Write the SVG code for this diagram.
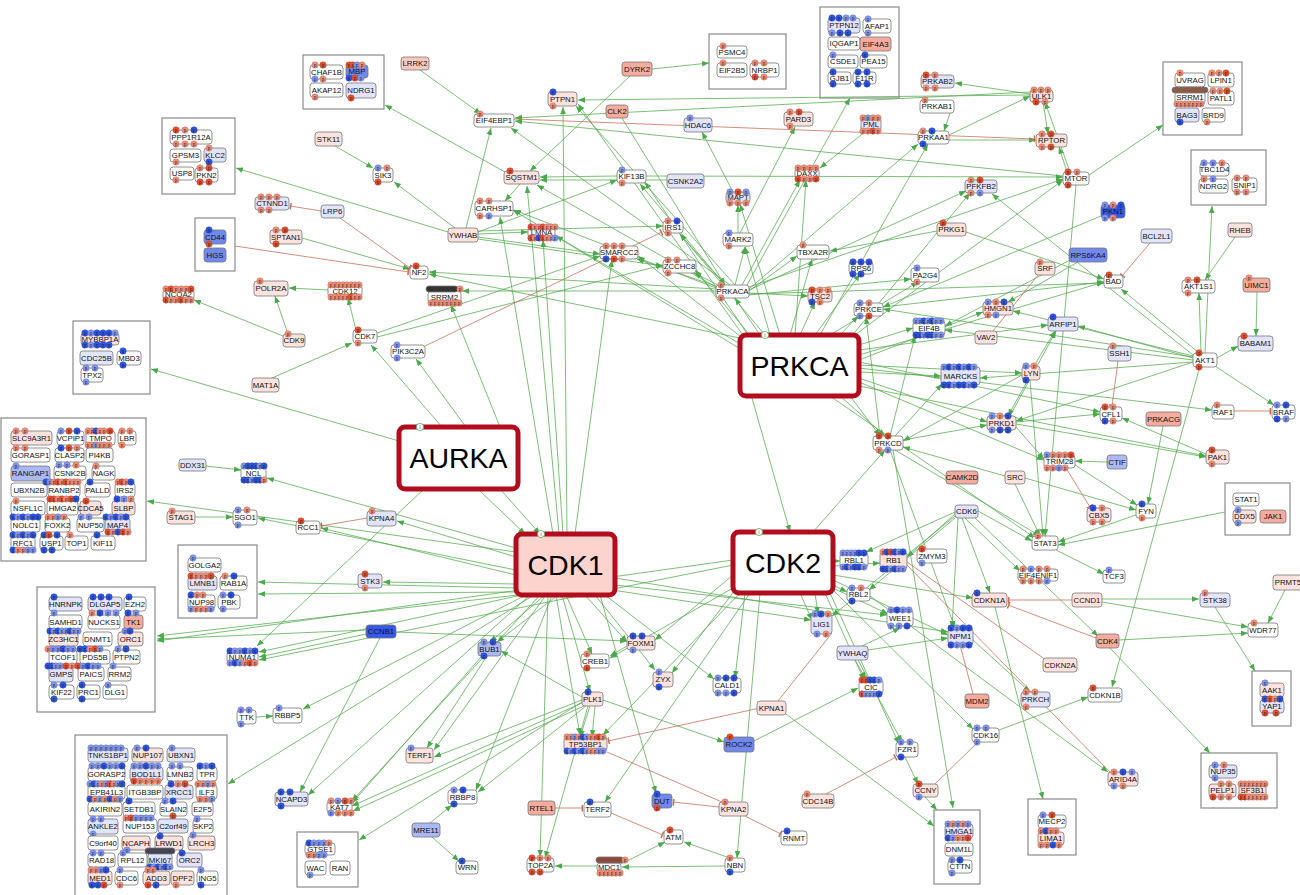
<svg xmlns="http://www.w3.org/2000/svg" width="1300" height="895" viewBox="0 0 1300 895">
<defs>
<style>
text{font-family:"Liberation Sans",Arial,sans-serif}
.n text{font-size:7.8px;text-anchor:middle;fill:#111}
.n rect{stroke:#777;stroke-width:.8;rx:3px}
.w{fill:#fff}.lp{fill:#fde2dd}.mp{fill:#f9c9be}.pk{fill:#f5ab9d}.lb{fill:#e1e4fb}.mb{fill:#abb8f3}.bl{fill:#7189ed}.db{fill:#3759e8}
.grp rect{fill:#fff;stroke:#8a8a8a;stroke-width:1.2}
.big rect{stroke:#b10d1f;stroke-width:5;rx:6px}
.big text{font-size:28.5px;text-anchor:middle;fill:#000}
#edges path{fill:none;stroke:#55aa4f;stroke-width:.9;stroke-opacity:.85;marker-end:url(#a)}
#edges path.r{stroke:#c46a55;marker-end:url(#t)}
#edges path.rn{stroke:#c46a55;marker-end:none}
.p{font-size:4.6px;text-anchor:middle;fill:#222}
.bar{rx:3px}
</style>
<marker id="a" viewBox="0 0 10 10" refX="10" refY="5" markerWidth="7" markerHeight="7" orient="auto" markerUnits="userSpaceOnUse"><path d="M0,1 L10,5 L0,9z" fill="#4aa94a"/></marker>
<marker id="t" viewBox="0 0 4 10" refX="3" refY="5" markerWidth="3" markerHeight="7" orient="auto" markerUnits="userSpaceOnUse"><path d="M2,0 V10" stroke="#c46a55" stroke-width="2"/></marker>
<g id="R"><circle r="3.2" fill="#e5502f" stroke="#b8402a" stroke-width=".5"/><text class="p" y="1.7">p</text></g>
<g id="S"><circle r="3.2" fill="#ef907a" stroke="#c07060" stroke-width=".5"/><text class="p" y="1.7">p</text></g>
<g id="B"><circle r="3.2" fill="#2f57e5" stroke="#1f3fb0" stroke-width=".5"/><text class="p" y="1.7">p</text></g>
<g id="L"><circle r="3.2" fill="#8399ef" stroke="#6070c0" stroke-width=".5"/><text class="p" y="1.7">p</text></g>
<g id="I"><circle r="3.6" fill="#fff" stroke="#5aaa55" stroke-width=".8"/><text class="p" y="1.7">i</text></g>
</defs>
<rect width="1300" height="895" fill="#fff"/>

<!-- group boxes -->
<g class="grp">
<g id="grp-CHAF1B"><rect x="303" y="55" width="81" height="54"/></g>
<g id="grp-PPP1R12A"><rect x="162" y="118" width="73" height="76"/></g>
<g id="grp-CD44"><rect x="195" y="218" width="40" height="53"/></g>
<g id="grp-PSMC4"><rect x="709" y="34" width="77" height="55"/></g>
<g id="grp-PTPN12"><rect x="820" y="7" width="79" height="91"/></g>
<g id="grp-UVRAG"><rect x="1163" y="62" width="79" height="73"/></g>
<g id="grp-TBC1D4"><rect x="1191" y="150" width="75" height="55"/></g>
<g id="grp-MYBBP1A"><rect x="73" y="321" width="77" height="73"/></g>
<g id="grp-SLC9A3R1"><rect x="1" y="418" width="145" height="143"/></g>
<g id="grp-GOLGA2"><rect x="178" y="545" width="79" height="73"/></g>
<g id="grp-HNRNPK"><rect x="37" y="587" width="118" height="125"/></g>
<g id="grp-TNKS1BP1"><rect x="75" y="735" width="152" height="170"/></g>
<g id="grp-GTSE1"><rect x="297" y="832" width="61" height="55"/></g>
<g id="grp-STAT1"><rect x="1225" y="483" width="65" height="52"/></g>
<g id="grp-AAK1"><rect x="1252" y="671" width="39" height="55"/></g>
<g id="grp-NUP35"><rect x="1201" y="753" width="76" height="55"/></g>
<g id="grp-MECP2"><rect x="1028" y="799" width="48" height="56"/></g>
<g id="grp-HMGA1"><rect x="934" y="810" width="46" height="74"/></g>
</g>

<g id="edges">
<!-- AURKA -->
<path d="M399 441 L151 369"/><path d="M442 427 L371 345"/><path d="M466 427 L416 359"/><path d="M500 427 L451 305"/><path d="M424 489 L257 646"/><path d="M478 489 L525 534"/><path d="M500 489 L540 534"/>
<!-- CDK1 -->
<path d="M553 534 L500 217"/><path d="M559 534 L527 186"/><path d="M563 534 L543 240"/><path d="M567 534 L563 107"/><path d="M575 534 L612 260"/>
<path d="M516 552 L147 501"/><path d="M516 548 L267 478"/><path d="M516 570 L258 518"/><path d="M516 575 L321 528"/><path d="M516 557 L397 521"/><path d="M516 584 L383 582"/><path d="M516 588 L258 582"/><path d="M516 592 L258 594"/><path d="M518 595 L157 636"/><path d="M522 595 L259 652"/><path d="M526 595 L303 709"/><path d="M530 595 L308 795"/><path d="M534 595 L228 784"/><path d="M540 595 L352 801"/><path d="M546 595 L434 750"/><path d="M552 595 L476 790"/>
<path d="M548 595 L540 857"/><path d="M556 595 L580 735"/><path d="M562 595 L590 692"/><path d="M566 595 L592 654"/><path d="M558 595 L497 642"/><path d="M545 595 L490 642"/><path d="M585 595 L627 642"/><path d="M595 595 L655 670"/><path d="M605 595 L714 679"/><path d="M612 590 L811 620"/><path d="M600 595 L656 793"/><path d="M615 585 L887 615"/><path d="M615 578 L948 632"/>
<!-- CCNB1 / BUB1 / PLK1 -->
<path d="M380 638 L300 792"/><path d="M396 632 L627 641"/><path d="M366 630 L157 639"/><path d="M366 634 L259 657"/>
<path d="M482 656 L352 803"/><path d="M487 656 L427 748"/>
<path d="M582 700 L434 757"/><path d="M582 703 L352 806"/><path d="M584 706 L353 811"/><path d="M586 706 L478 792"/><path d="M590 706 L580 737"/><path d="M595 706 L592 737"/><path d="M588 706 L545 858"/><path d="M603 700 L724 742"/><path d="M582 702 L359 840"/><path d="M582 697 L501 651"/>
<path d="M627 646 L610 656"/>
<!-- CDK2 -->
<path d="M833 561 L840 561"/><path d="M833 566 L880 563"/><path d="M833 585 L847 592"/><path d="M815 593 L818 614"/><path d="M800 593 L812 620"/><path d="M833 588 L888 614"/><path d="M833 580 L948 635"/><path d="M833 575 L973 598"/><path d="M825 593 L864 680"/><path d="M830 593 L899 744"/><path d="M733 575 L655 640"/><path d="M745 593 L735 678"/><path d="M735 590 L672 673"/><path d="M740 593 L603 735"/><path d="M750 593 L605 802"/><path d="M760 593 L737 858"/><path d="M833 590 L973 729"/><path d="M813 532 L885 450"/><path d="M733 588 L610 658"/><path d="M733 560 L157 641"/><path d="M733 565 L259 660"/>
<!-- PRKCA -->
<path d="M760 335 L735 298"/><path d="M770 335 L745 247"/><path d="M780 335 L740 204"/><path d="M765 335 L680 234"/><path d="M750 335 L695 270"/><path d="M745 340 L638 256"/><path d="M742 345 L556 236"/><path d="M742 350 L513 210"/><path d="M748 335 L645 182"/><path d="M745 338 L578 104"/><path d="M790 335 L812 259"/><path d="M800 335 L815 302"/><path d="M815 335 L860 274"/><path d="M830 335 L918 282"/><path d="M840 335 L858 316"/><path d="M850 338 L970 193"/><path d="M855 335 L1063 180"/><path d="M795 335 L806 180"/><path d="M740 338 L429 274"/><path d="M820 335 L928 144"/>
<path d="M859 345 L913 328"/><path d="M859 372 L941 376"/><path d="M859 355 L1104 282"/><path d="M859 360 L983 312"/><path d="M859 350 L1048 325"/><path d="M859 365 L1022 373"/><path d="M859 378 L987 422"/><path d="M859 382 L1044 460"/><path d="M859 368 L1212 410"/><path d="M859 386 L1206 456"/><path d="M859 362 L1100 412"/><path d="M850 396 L880 436"/><path d="M840 396 L885 436"/><path d="M830 396 L1035 538"/><path d="M752 398 L790 532"/>
<!-- PRKACA -->
<path d="M716 289 L429 272"/><path d="M716 291 L462 291"/><path d="M742 285 L800 180"/><path d="M747 285 L850 98"/><path d="M749 289 L918 144"/><path d="M749 290 L966 191"/><path d="M749 287 L1063 179"/><path d="M749 291 L797 256"/><path d="M749 293 L808 296"/><path d="M725 285 L680 234"/><path d="M718 285 L694 273"/><path d="M716 286 L637 259"/><path d="M725 285 L640 184"/><path d="M716 288 L514 210"/><path d="M735 285 L576 106"/><path d="M749 294 L1104 283"/><path d="M749 295 L911 279"/><path d="M730 285 L511 128"/><path d="M735 285 L745 247"/><path d="M716 287 L537 185"/>
<!-- CDK6 / PRKCD / LYN / PRKD1 / SRC -->
<path d="M955 514 L907 557"/><path d="M955 512 L866 552"/><path d="M955 516 L832 616"/><path d="M955 518 L869 590"/><path d="M978 511 L1032 541"/><path d="M965 518 L1020 571"/><path d="M958 518 L952 628"/><path d="M975 518 L1098 636"/><path d="M962 518 L990 593"/>
<path d="M895 450 L1040 536"/><path d="M893 450 L953 808"/><path d="M890 450 L955 628"/><path d="M895 436 L942 384"/><path d="M890 436 L915 336"/><path d="M880 436 L866 317"/><path d="M903 440 L987 425"/>
<path d="M1030 380 L1043 536"/><path d="M1028 380 L1008 416"/><path d="M1034 366 L1055 331"/><path d="M1022 375 L903 441"/>
<path d="M1010 416 L1056 331"/><path d="M1016 422 L1100 414"/><path d="M1016 427 L1044 459"/><path d="M1016 424 L1206 457"/>
<path d="M1025 478 L1136 510"/><path d="M1015 484 L1040 536"/><path d="M1005 476 L903 447"/>
<path d="M1136 515 L1058 542"/><path d="M1225 512 L1058 545"/><path d="M1163 426 L1148 504"/><path d="M1107 462 L1075 461"/><path d="M1075 465 L1137 505"/><path d="M1056 550 L1104 574"/><path d="M1206 454 L1122 418"/>
<!-- AKT1 -->
<path d="M1200 366 L1112 687"/><path d="M1193 362 L1016 421"/><path d="M1217 358 L1238 346"/><path d="M1215 366 L1274 405"/><path d="M1205 353 L1212 206"/><path d="M1199 353 L1121 289"/><path d="M1193 358 L1078 326"/><path d="M1193 356 L1013 311"/><path d="M1193 360 L945 330"/><path d="M1193 355 L992 194"/><path d="M1193 357 L883 309"/><path d="M1193 362 L980 378"/><path d="M1201 353 L1199 293"/>
<!-- MTOR / AMPK / ULK1 -->
<path d="M1063 176 L515 121"/><path d="M1067 172 L1059 147"/><path d="M1089 175 L1163 125"/><path d="M1070 172 L1045 102"/><path d="M1076 185 L1045 536"/><path d="M646 176 L1063 177"/>
<path d="M949 135 L1030 96"/><path d="M949 140 L1036 140"/><path d="M950 113 L944 131"/><path d="M1030 94 L955 83"/><path d="M1043 102 L1048 134"/><path d="M1030 95 L578 100"/><path d="M1030 92 L515 118"/>
<path d="M937 231 L830 251"/><path d="M966 232 L1104 279"/><path d="M1235 237 L1205 280"/><path d="M1257 292 L1256 336"/><path d="M1078 262 L1008 302"/><path d="M1070 260 L945 326"/><path d="M1101 216 L883 307"/><path d="M883 307 L1104 282"/>
<!-- lower right -->
<path d="M995 607 L1043 799"/><path d="M1110 648 L1210 753"/><path d="M1119 640 L1248 633"/><path d="M1102 599 L1199 599"/><path d="M1102 602 L1248 627"/><path d="M1215 607 L1255 671"/><path d="M1285 590 L1268 623"/><path d="M999 730 L1088 697"/><path d="M905 757 L918 784"/><path d="M925 797 L937 810"/><path d="M973 640 L1030 692"/><path d="M870 596 L1108 772"/>
<path d="M862 646 L900 628"/><path d="M855 660 L866 679"/><path d="M858 660 L902 742"/><path d="M868 650 L948 638"/><path d="M754 741 L858 688"/><path d="M786 714 L934 826"/>
<path d="M597 866 L555 866"/><path d="M621 864 L665 842"/><path d="M725 866 L622 867"/><path d="M730 858 L684 842"/>
<path d="M430 823 L452 805"/><path d="M432 837 L459 861"/><path d="M256 717 L273 716"/><path d="M206 466 L241 470"/><path d="M195 517 L233 517"/>
<!-- upper left -->
<path d="M420 70 L481 114"/><path d="M652 69 L709 63"/><path d="M630 76 L530 171"/><path d="M335 146 L373 168"/><path d="M455 228 L394 182"/><path d="M466 228 L491 128"/><path d="M448 232 L236 168"/><path d="M478 232 L617 180"/><path d="M478 234 L528 232"/><path d="M478 237 L600 254"/><path d="M478 239 L663 266"/><path d="M478 231 L663 226"/>
<path d="M505 172 L385 105"/><path d="M520 184 L505 201"/><path d="M617 176 L540 177"/><path d="M667 180 L540 180"/><path d="M302 238 L410 269"/>
<path d="M328 290 L289 288"/><path d="M288 334 L275 296"/><path d="M283 336 L194 300"/><path d="M356 330 L348 298"/><path d="M272 378 L352 343"/><path d="M377 333 L600 256"/><path d="M377 337 L663 265"/>
<path d="M622 118 L725 285"/><path d="M738 233 L738 205"/><path d="M740 233 L795 127"/><path d="M733 192 L702 132"/><path d="M866 131 L820 168"/>
<!-- red -->
<path class="r" d="M1150 243 L1122 276"/><path class="r" d="M1234 411 L1271 411"/><path class="r" d="M1118 361 L1112 406"/><path class="r" d="M1066 468 L1090 507"/>
<path class="r" d="M1096 638 L1008 605"/><path class="r" d="M1072 600 L1008 600"/><path class="rn" d="M935 784 L978 742"/><path class="r" d="M826 794 L896 757"/><path class="rn" d="M973 694 L960 645"/><path class="rn" d="M907 565 L1110 772"/><path class="rn" d="M907 562 L1046 660"/>
<path class="r" d="M760 708 L608 741"/><path class="rn" d="M778 701 L832 633"/><path class="r" d="M719 807 L673 802"/><path class="r" d="M745 816 L781 834"/><path class="rn" d="M722 802 L607 752"/><path class="r" d="M555 808 L583 808"/><path class="r" d="M611 813 L663 835"/>
<path class="r" d="M367 518 L321 526"/><path class="r" d="M235 246 L409 272"/><path class="r" d="M321 211 L290 206"/><path class="r" d="M340 218 L410 268"/><path class="r" d="M425 346 L662 232"/><path class="r" d="M514 119 L1035 139"/><path class="rn" d="M1038 275 L993 331"/>
</g>

<!-- big nodes -->
<g id="n-AURKA" class="big"><rect x="399" y="427" width="119" height="62" fill="#fff"/><text x="458.5" y="468">AURKA</text><use href="#I" x="420" y="427"/></g>
<g id="n-CDK1" class="big"><rect x="516" y="534" width="99" height="61" fill="#fdd3cd"/><text x="565.5" y="575">CDK1</text><use href="#I" x="541" y="534"/></g>
<g id="n-CDK2" class="big"><rect x="733" y="532" width="100" height="61" fill="#fff"/><text x="783" y="573">CDK2</text><use href="#I" x="759" y="532"/></g>
<g id="n-PRKCA" class="big"><rect x="740" y="335" width="119" height="61" fill="#fff"/><text x="799.5" y="376">PRKCA</text><use href="#I" x="765" y="335"/></g>

<g class="n">
<g id="n-LRRK2"><rect class="mp" x="401" y="57" width="28" height="13"/><text x="415" y="66.3">LRRK2</text></g>
<g id="n-DYRK2"><rect class="pk" x="622" y="62" width="30" height="14"/><text x="637" y="71.8">DYRK2</text></g>
<g id="n-PTPN1"><rect class="lp" x="548" y="92" width="29" height="14"/><text x="562.5" y="101.8">PTPN1</text><use href="#B" x="553" y="92"/><use href="#S" x="553" y="106"/></g>
<g id="n-CLK2"><rect class="pk" x="606" y="105" width="22" height="13"/><text x="617" y="114.3">CLK2</text></g>
<g id="n-EIF4EBP1"><rect class="w" x="474" y="114" width="40" height="13"/><text x="494" y="123.3">EIF4EBP1</text><use href="#S" x="480" y="114"/></g>
<g id="n-STK11"><rect class="lp" x="315" y="132" width="27" height="14"/><text x="328.5" y="141.8">STK11</text></g>
<g id="n-SIK3"><rect class="w" x="373" y="168" width="20" height="14"/><text x="383" y="177.8">SIK3</text><use href="#L" x="378" y="168"/><use href="#S" x="387" y="168"/><use href="#R" x="378" y="182"/></g>
<g id="n-SQSTM1"><rect class="lp" x="504" y="171" width="35" height="13"/><text x="521.5" y="180.3">SQSTM1</text><use href="#R" x="510" y="171"/></g>
<g id="n-KIF13B"><rect class="w" x="617" y="170" width="29" height="13"/><text x="631.5" y="179.3">KIF13B</text><use href="#L" x="622" y="170"/><use href="#S" x="622" y="183"/></g>
<g id="n-CARHSP1"><rect class="w" x="475" y="201" width="38" height="15"/><text x="494" y="211.3">CARHSP1</text><use href="#S" x="480" y="201"/><use href="#S" x="489" y="201"/><use href="#S" x="480" y="216"/><use href="#L" x="489" y="216"/></g>
<g id="n-YWHAB"><rect class="lp" x="448" y="228" width="30" height="14"/><text x="463" y="237.8">YWHAB</text></g>
<g id="n-LMNA"><rect class="w" x="528" y="227" width="27" height="11"/><text x="541.5" y="235.3">LMNA</text><use href="#R" x="531" y="227"/><use href="#S" x="535" y="227"/><use href="#S" x="539" y="227"/><use href="#R" x="543" y="227"/><use href="#S" x="547" y="227"/><use href="#S" x="551" y="227"/><use href="#S" x="555" y="227"/><use href="#R" x="531" y="238"/><use href="#S" x="535" y="238"/><use href="#B" x="539" y="238"/><use href="#R" x="543" y="238"/><use href="#S" x="547" y="238"/><use href="#S" x="551" y="238"/><use href="#L" x="555" y="238"/></g>
<g id="n-SMARCC2"><rect class="w" x="600" y="246" width="38" height="13"/><text x="619" y="255.3">SMARCC2</text><use href="#S" x="606" y="246"/><use href="#S" x="614" y="246"/><use href="#S" x="622" y="246"/><use href="#B" x="606" y="259"/><use href="#R" x="614" y="259"/><use href="#S" x="622" y="259"/></g>
<g id="n-NF2"><rect class="w" x="410" y="266" width="18" height="13"/><text x="419" y="275.3">NF2</text><use href="#R" x="416" y="266"/></g>
<g id="n-CTNND1"><rect class="lb" x="255" y="197" width="34" height="13"/><text x="272" y="206.3">CTNND1</text><use href="#S" x="261" y="197"/><use href="#S" x="269" y="197"/><use href="#S" x="277" y="197"/><use href="#S" x="261" y="210"/><use href="#S" x="269" y="210"/></g>
<g id="n-LRP6"><rect class="lb" x="321" y="205" width="23" height="13"/><text x="332.5" y="214.3">LRP6</text></g>
<g id="n-SPTAN1"><rect class="lp" x="270" y="230" width="32" height="14"/><text x="286" y="239.8">SPTAN1</text><use href="#S" x="276" y="230"/><use href="#R" x="285" y="230"/><use href="#R" x="276" y="244"/></g>
<g id="n-POLR2A"><rect class="lp" x="254" y="281" width="34" height="15"/><text x="271" y="291.3">POLR2A</text><use href="#S" x="260" y="281"/></g>
<g id="n-NCOA2"><rect class="w" x="163" y="289" width="31" height="11"/><text x="178.5" y="297.3">NCOA2</text><use href="#S" x="166" y="289"/><use href="#R" x="171" y="289"/><use href="#S" x="176" y="289"/><use href="#S" x="181" y="289"/><use href="#S" x="186" y="289"/><use href="#R" x="191" y="289"/><use href="#R" x="166" y="300"/><use href="#S" x="171" y="300"/><use href="#S" x="176" y="300"/><use href="#R" x="181" y="300"/><use href="#S" x="186" y="300"/><use href="#S" x="191" y="300"/></g>
<g id="n-CDK12"><rect class="w" x="328" y="285" width="34" height="12"/><text x="345" y="293.8">CDK12</text><use href="#S" x="331" y="285"/><use href="#S" x="335" y="285"/><use href="#S" x="339" y="285"/><use href="#S" x="343" y="285"/><use href="#S" x="347" y="285"/><use href="#S" x="351" y="285"/><use href="#S" x="355" y="285"/><use href="#S" x="359" y="285"/><use href="#S" x="331" y="297"/><use href="#S" x="335" y="297"/><use href="#S" x="339" y="297"/><use href="#S" x="343" y="297"/><use href="#S" x="347" y="297"/><use href="#R" x="351" y="297"/><use href="#S" x="355" y="297"/><use href="#S" x="359" y="297"/></g>
<g id="n-SRRM2"><rect class="w" x="428" y="291" width="33" height="12"/><text x="444.5" y="299.8">SRRM2</text><rect class="bar" x="426" y="286" width="32" height="6" fill="#333" stroke="none"/><use href="#S" x="460" y="289"/><use href="#S" x="431" y="303"/><use href="#S" x="435" y="303"/><use href="#S" x="439" y="303"/><use href="#S" x="443" y="303"/><use href="#S" x="447" y="303"/><use href="#S" x="451" y="303"/><use href="#S" x="455" y="303"/><use href="#S" x="459" y="303"/></g>
<g id="n-CDK9"><rect class="lp" x="283" y="334" width="22" height="13"/><text x="294" y="343.3">CDK9</text><use href="#S" x="288" y="334"/></g>
<g id="n-MAT1A"><rect class="lp" x="252" y="378" width="27" height="14"/><text x="265.5" y="387.8">MAT1A</text></g>
<g id="n-CDK7"><rect class="w" x="353" y="330" width="24" height="13"/><text x="365" y="339.3">CDK7</text><use href="#R" x="358" y="330"/><use href="#S" x="358" y="343"/></g>
<g id="n-PIK3C2A"><rect class="w" x="391" y="345" width="34" height="13"/><text x="408" y="354.3">PIK3C2A</text><use href="#L" x="397" y="345"/><use href="#L" x="397" y="358"/></g>
<g id="n-KPNA4"><rect class="lb" x="367" y="511" width="29" height="15"/><text x="381.5" y="521.3">KPNA4</text><use href="#S" x="372" y="511"/></g>
<g id="n-STK3"><rect class="lb" x="358" y="574" width="24" height="14"/><text x="370" y="583.8">STK3</text><use href="#R" x="365" y="574"/><use href="#S" x="365" y="588"/></g>
<g id="n-DDX31"><rect class="lb" x="179" y="459" width="27" height="12"/><text x="192.5" y="467.8">DDX31</text></g>
<g id="n-NCL"><rect class="w" x="241" y="466" width="25" height="14"/><text x="253.5" y="475.8">NCL</text><use href="#L" x="244" y="466"/><use href="#B" x="248" y="466"/><use href="#B" x="252" y="466"/><use href="#B" x="256" y="466"/><use href="#L" x="260" y="466"/><use href="#B" x="264" y="466"/><use href="#B" x="244" y="480"/><use href="#B" x="248" y="480"/><use href="#L" x="252" y="480"/><use href="#B" x="256" y="480"/><use href="#B" x="260" y="480"/><use href="#S" x="264" y="480"/></g>
<g id="n-STAG1"><rect class="lp" x="167" y="511" width="28" height="13"/><text x="181" y="520.3">STAG1</text><use href="#S" x="172" y="511"/></g>
<g id="n-SGO1"><rect class="w" x="233" y="510" width="24" height="15"/><text x="245" y="520.3">SGO1</text><use href="#L" x="238" y="510"/><use href="#S" x="247" y="510"/><use href="#L" x="238" y="525"/></g>
<g id="n-RCC1"><rect class="w" x="296" y="521" width="24" height="13"/><text x="308" y="530.3">RCC1</text><use href="#R" x="301" y="521"/></g>
<g id="n-NUMA1"><rect class="w" x="227" y="651" width="31" height="12"/><text x="242.5" y="659.8">NUMA1</text><use href="#B" x="230" y="651"/><use href="#L" x="235" y="651"/><use href="#L" x="240" y="651"/><use href="#B" x="245" y="651"/><use href="#L" x="250" y="651"/><use href="#B" x="255" y="651"/><use href="#L" x="230" y="663"/><use href="#B" x="235" y="663"/><use href="#L" x="240" y="663"/><use href="#S" x="245" y="663"/><use href="#R" x="250" y="663"/><use href="#S" x="255" y="663"/></g>
<g id="n-TTK"><rect class="w" x="237" y="710" width="19" height="14"/><text x="246.5" y="719.8">TTK</text><use href="#L" x="241" y="710"/><use href="#L" x="249" y="710"/><use href="#L" x="241" y="724"/></g>
<g id="n-RBBP5"><rect class="w" x="273" y="708" width="29" height="15"/><text x="287.5" y="718.3">RBBP5</text><use href="#L" x="279" y="708"/></g>
<g id="n-NCAPD3"><rect class="lb" x="275" y="792" width="33" height="14"/><text x="291.5" y="801.8">NCAPD3</text><use href="#B" x="281" y="792"/><use href="#B" x="290" y="792"/><use href="#B" x="281" y="806"/></g>
<g id="n-CCNB1"><rect class="db" x="366" y="625" width="30" height="13"/><text x="381" y="634.3">CCNB1</text></g>
<g id="n-BUB1"><rect class="mb" x="478" y="642" width="23" height="14"/><text x="489.5" y="651.8">BUB1</text><use href="#L" x="484" y="642"/><use href="#B" x="493" y="642"/><use href="#B" x="484" y="656"/></g>
<g id="n-FOXM1"><rect class="lp" x="627" y="636" width="28" height="14"/><text x="641" y="645.8">FOXM1</text><use href="#B" x="633" y="636"/><use href="#B" x="642" y="636"/><use href="#L" x="633" y="650"/></g>
<g id="n-CREB1"><rect class="w" x="581" y="654" width="28" height="14"/><text x="595" y="663.8">CREB1</text><use href="#S" x="587" y="654"/><use href="#R" x="587" y="668"/></g>
<g id="n-PLK1"><rect class="lp" x="582" y="692" width="21" height="14"/><text x="592.5" y="701.8">PLK1</text><use href="#B" x="588" y="692"/></g>
<g id="n-TP53BP1"><rect class="lp" x="564" y="737" width="43" height="14"/><text x="585.5" y="746.8">TP53BP1</text><use href="#S" x="567" y="737"/><use href="#S" x="571" y="737"/><use href="#L" x="575" y="737"/><use href="#S" x="579" y="737"/><use href="#B" x="583" y="737"/><use href="#L" x="587" y="737"/><use href="#S" x="591" y="737"/><use href="#S" x="595" y="737"/><use href="#R" x="599" y="737"/><use href="#S" x="603" y="737"/><use href="#B" x="567" y="751"/><use href="#L" x="571" y="751"/><use href="#B" x="575" y="751"/><use href="#L" x="579" y="751"/><use href="#B" x="583" y="751"/><use href="#L" x="587" y="751"/><use href="#S" x="591" y="751"/><use href="#S" x="595" y="751"/><use href="#L" x="599" y="751"/><use href="#L" x="603" y="751"/></g>
<g id="n-TERF1"><rect class="lp" x="406" y="748" width="27" height="15"/><text x="419.5" y="758.3">TERF1</text><use href="#L" x="411" y="748"/></g>
<g id="n-KAT7"><rect class="w" x="327" y="801" width="25" height="12"/><text x="339.5" y="809.8">KAT7</text><use href="#S" x="331" y="801"/><use href="#L" x="338" y="801"/><use href="#R" x="345" y="801"/><use href="#S" x="351" y="801"/><use href="#L" x="331" y="813"/><use href="#S" x="338" y="813"/><use href="#S" x="345" y="813"/><use href="#S" x="351" y="813"/></g>
<g id="n-RBBP8"><rect class="w" x="448" y="790" width="29" height="14"/><text x="462.5" y="799.8">RBBP8</text><use href="#L" x="454" y="790"/><use href="#B" x="463" y="790"/><use href="#B" x="454" y="804"/></g>
<g id="n-MRE11"><rect class="mb" x="412" y="823" width="28" height="14"/><text x="426" y="832.8">MRE11</text></g>
<g id="n-WRN"><rect class="w" x="456" y="861" width="22" height="13"/><text x="467" y="870.3">WRN</text><use href="#B" x="462" y="861"/></g>
<g id="n-RTEL1"><rect class="pk" x="528" y="801" width="27" height="14"/><text x="541.5" y="810.8">RTEL1</text></g>
<g id="n-TERF2"><rect class="w" x="584" y="802" width="27" height="15"/><text x="597.5" y="812.3">TERF2</text><use href="#B" x="590" y="802"/></g>
<g id="n-TOP2A"><rect class="w" x="527" y="858" width="27" height="14"/><text x="540.5" y="867.8">TOP2A</text><use href="#R" x="532" y="858"/><use href="#S" x="540" y="858"/><use href="#S" x="548" y="858"/><use href="#R" x="532" y="872"/><use href="#R" x="540" y="872"/></g>
<g id="n-MDC1"><rect class="w" x="597" y="863" width="24" height="9"/><text x="609" y="870.3">MDC1</text><rect class="bar" x="596" y="857" width="28" height="6" fill="#8a4a3a" stroke="none"/><use href="#S" x="625" y="860"/><use href="#S" x="600" y="873"/><use href="#S" x="604" y="873"/><use href="#S" x="608" y="873"/><use href="#S" x="612" y="873"/><use href="#S" x="616" y="873"/><use href="#S" x="620" y="873"/></g>
<g id="n-ZYX"><rect class="lp" x="653" y="672" width="20" height="15"/><text x="663" y="682.3">ZYX</text><use href="#L" x="659" y="672"/><use href="#B" x="659" y="687"/></g>
<g id="n-CALD1"><rect class="w" x="713" y="678" width="28" height="15"/><text x="727" y="688.3">CALD1</text><use href="#L" x="718" y="678"/><use href="#B" x="726" y="678"/><use href="#B" x="734" y="678"/><use href="#L" x="718" y="693"/><use href="#L" x="726" y="693"/><use href="#B" x="734" y="693"/></g>
<g id="n-CIC"><rect class="w" x="859" y="680" width="24" height="14"/><text x="871" y="689.8">CIC</text><use href="#R" x="862" y="680"/><use href="#R" x="866" y="680"/><use href="#B" x="870" y="680"/><use href="#B" x="874" y="680"/><use href="#L" x="879" y="680"/><use href="#R" x="862" y="694"/><use href="#L" x="866" y="694"/><use href="#L" x="870" y="694"/><use href="#L" x="874" y="694"/><use href="#B" x="879" y="694"/></g>
<g id="n-KPNA1"><rect class="lp" x="757" y="701" width="29" height="14"/><text x="771.5" y="710.8">KPNA1</text></g>
<g id="n-ROCK2"><rect class="bl" x="724" y="737" width="30" height="15"/><text x="739" y="747.3">ROCK2</text><use href="#R" x="730" y="737"/></g>
<g id="n-FZR1"><rect class="w" x="896" y="742" width="22" height="15"/><text x="907" y="752.3">FZR1</text><use href="#L" x="901" y="742"/><use href="#L" x="910" y="742"/><use href="#B" x="901" y="757"/></g>
<g id="n-DUT"><rect class="bl" x="652" y="794" width="20" height="14"/><text x="662" y="803.8">DUT</text><use href="#B" x="657" y="794"/><use href="#R" x="657" y="808"/></g>
<g id="n-KPNA2"><rect class="lp" x="719" y="802" width="29" height="14"/><text x="733.5" y="811.8">KPNA2</text><use href="#S" x="725" y="802"/></g>
<g id="n-CDC14B"><rect class="lp" x="802" y="794" width="32" height="14"/><text x="818" y="803.8">CDC14B</text><use href="#S" x="807" y="794"/></g>
<g id="n-CCNY"><rect class="lp" x="913" y="784" width="25" height="13"/><text x="925.5" y="793.3">CCNY</text><use href="#R" x="919" y="784"/><use href="#L" x="919" y="797"/></g>
<g id="n-ATM"><rect class="w" x="664" y="830" width="19" height="14"/><text x="673.5" y="839.8">ATM</text><use href="#R" x="670" y="830"/></g>
<g id="n-RNMT"><rect class="w" x="781" y="831" width="26" height="14"/><text x="794" y="840.8">RNMT</text><use href="#B" x="787" y="831"/></g>
<g id="n-NBN"><rect class="w" x="725" y="858" width="20" height="14"/><text x="735" y="867.8">NBN</text><use href="#S" x="730" y="858"/><use href="#B" x="730" y="872"/></g>
<g id="n-LIG1"><rect class="lb" x="811" y="614" width="21" height="20"/><text x="821.5" y="627">LIG1</text><use href="#L" x="815" y="614"/><use href="#B" x="821" y="614"/><use href="#S" x="828" y="614"/><use href="#L" x="817" y="634"/><use href="#S" x="826" y="634"/></g>
<g id="n-WEE1"><rect class="w" x="887" y="610" width="26" height="16"/><text x="900" y="620.8">WEE1</text><use href="#L" x="891" y="610"/><use href="#B" x="897" y="610"/><use href="#L" x="903" y="610"/><use href="#L" x="909" y="610"/><use href="#L" x="891" y="626"/><use href="#L" x="899" y="626"/><use href="#B" x="907" y="626"/></g>
<g id="n-NPM1"><rect class="lb" x="948" y="628" width="25" height="17"/><text x="960.5" y="639.3">NPM1</text><use href="#B" x="951" y="628"/><use href="#L" x="957" y="628"/><use href="#B" x="963" y="628"/><use href="#B" x="969" y="628"/><use href="#B" x="951" y="645"/><use href="#L" x="957" y="645"/><use href="#L" x="963" y="645"/><use href="#B" x="969" y="645"/></g>
<g id="n-YWHAQ"><rect class="lb" x="837" y="646" width="31" height="14"/><text x="852.5" y="655.8">YWHAQ</text></g>
<g id="n-MDM2"><rect class="pk" x="965" y="694" width="24" height="14"/><text x="977" y="703.8">MDM2</text></g>
<g id="n-RBL1"><rect class="w" x="840" y="553" width="28" height="14"/><text x="854" y="562.8">RBL1</text><use href="#L" x="843" y="553"/><use href="#L" x="847" y="553"/><use href="#L" x="851" y="553"/><use href="#L" x="855" y="553"/><use href="#B" x="859" y="553"/><use href="#B" x="864" y="553"/><use href="#L" x="843" y="567"/><use href="#B" x="847" y="567"/><use href="#L" x="851" y="567"/><use href="#B" x="855" y="567"/><use href="#B" x="859" y="567"/><use href="#L" x="864" y="567"/></g>
<g id="n-RB1"><rect class="lp" x="880" y="552" width="27" height="17"/><text x="893.5" y="563.3">RB1</text><use href="#S" x="883" y="552"/><use href="#B" x="887" y="552"/><use href="#R" x="891" y="552"/><use href="#B" x="895" y="552"/><use href="#L" x="899" y="552"/><use href="#B" x="903" y="552"/><use href="#B" x="883" y="569"/><use href="#B" x="887" y="569"/><use href="#L" x="891" y="569"/><use href="#B" x="895" y="569"/><use href="#L" x="899" y="569"/><use href="#L" x="903" y="569"/></g>
<g id="n-RBL2"><rect class="w" x="847" y="588" width="23" height="13"/><text x="858.5" y="597.3">RBL2</text><use href="#L" x="852" y="588"/><use href="#S" x="861" y="588"/><use href="#B" x="852" y="601"/></g>
<g id="n-ZMYM3"><rect class="w" x="917" y="549" width="30" height="14"/><text x="932" y="558.8">ZMYM3</text><use href="#R" x="922" y="549"/><use href="#L" x="922" y="563"/></g>
<g id="n-CDK6"><rect class="lb" x="955" y="505" width="23" height="13"/><text x="966.5" y="514.3">CDK6</text></g>
<g id="n-CAMK2D"><rect class="pk" x="946" y="471" width="32" height="13"/><text x="962" y="480.3">CAMK2D</text></g>
<g id="n-PRKCD"><rect class="w" x="873" y="436" width="30" height="14"/><text x="888" y="445.8">PRKCD</text><use href="#R" x="879" y="436"/><use href="#R" x="888" y="436"/><use href="#S" x="879" y="450"/><use href="#L" x="888" y="450"/></g>
<g id="n-PRKCE"><rect class="w" x="854" y="303" width="29" height="13"/><text x="868.5" y="312.3">PRKCE</text><use href="#L" x="860" y="303"/><use href="#S" x="869" y="303"/><use href="#L" x="860" y="316"/><use href="#R" x="869" y="316"/></g>
<g id="n-EIF4B"><rect class="w" x="913" y="321" width="32" height="14"/><text x="929" y="330.8">EIF4B</text><use href="#L" x="916" y="321"/><use href="#L" x="920" y="321"/><use href="#B" x="924" y="321"/><use href="#L" x="928" y="321"/><use href="#B" x="932" y="321"/><use href="#L" x="936" y="321"/><use href="#L" x="941" y="321"/><use href="#B" x="916" y="335"/><use href="#B" x="920" y="335"/><use href="#L" x="924" y="335"/><use href="#B" x="928" y="335"/><use href="#B" x="932" y="335"/><use href="#L" x="936" y="335"/><use href="#L" x="941" y="335"/></g>
<g id="n-MARCKS"><rect class="lb" x="941" y="367" width="39" height="18"/><text x="960.5" y="378.8">MARCKS</text><use href="#L" x="944" y="367"/><use href="#B" x="949" y="367"/><use href="#L" x="954" y="367"/><use href="#B" x="959" y="367"/><use href="#L" x="964" y="367"/><use href="#B" x="969" y="367"/><use href="#L" x="974" y="367"/><use href="#B" x="944" y="385"/><use href="#B" x="949" y="385"/><use href="#L" x="954" y="385"/><use href="#B" x="959" y="385"/><use href="#B" x="964" y="385"/><use href="#L" x="969" y="385"/><use href="#B" x="974" y="385"/></g>
<g id="n-HMGN1"><rect class="lp" x="983" y="302" width="30" height="13"/><text x="998" y="311.3">HMGN1</text><use href="#L" x="988" y="302"/><use href="#S" x="996" y="302"/><use href="#B" x="1004" y="302"/><use href="#S" x="988" y="315"/><use href="#L" x="996" y="315"/></g>
<g id="n-ARFIP1"><rect class="lb" x="1048" y="317" width="30" height="14"/><text x="1063" y="326.8">ARFIP1</text><use href="#B" x="1053" y="317"/></g>
<g id="n-VAV2"><rect class="lp" x="975" y="331" width="22" height="13"/><text x="986" y="340.3">VAV2</text></g>
<g id="n-SSH1"><rect class="lb" x="1108" y="346" width="23" height="15"/><text x="1119.5" y="356.3">SSH1</text><use href="#S" x="1113" y="346"/></g>
<g id="n-AKT1"><rect class="w" x="1193" y="353" width="24" height="14"/><text x="1205" y="362.8">AKT1</text><use href="#R" x="1199" y="353"/><use href="#R" x="1199" y="367"/></g>
<g id="n-BABAM1"><rect class="lb" x="1238" y="336" width="35" height="15"/><text x="1255.5" y="346.3">BABAM1</text><use href="#R" x="1244" y="336"/></g>
<g id="n-LYN"><rect class="lp" x="1022" y="366" width="18" height="14"/><text x="1031" y="375.8">LYN</text><use href="#L" x="1026" y="366"/><use href="#S" x="1034" y="366"/><use href="#B" x="1026" y="380"/></g>
<g id="n-PRKD1"><rect class="lp" x="987" y="416" width="29" height="14"/><text x="1001.5" y="425.8">PRKD1</text><use href="#L" x="992" y="416"/><use href="#S" x="1000" y="416"/><use href="#B" x="1008" y="416"/><use href="#L" x="992" y="430"/><use href="#B" x="1000" y="430"/><use href="#B" x="1008" y="430"/></g>
<g id="n-CFL1"><rect class="w" x="1100" y="407" width="22" height="14"/><text x="1111" y="416.8">CFL1</text><use href="#R" x="1105" y="407"/><use href="#S" x="1113" y="407"/><use href="#B" x="1105" y="421"/><use href="#S" x="1113" y="421"/></g>
<g id="n-PRKACG"><rect class="pk" x="1146" y="412" width="35" height="14"/><text x="1163.5" y="421.8">PRKACG</text></g>
<g id="n-RAF1"><rect class="w" x="1212" y="405" width="22" height="14"/><text x="1223" y="414.8">RAF1</text><use href="#S" x="1217" y="405"/></g>
<g id="n-BRAF"><rect class="w" x="1272" y="405" width="23" height="14"/><text x="1283.5" y="414.8">BRAF</text><use href="#L" x="1277" y="405"/><use href="#B" x="1286" y="405"/><use href="#B" x="1277" y="419"/><use href="#L" x="1286" y="419"/></g>
<g id="n-TRIM28"><rect class="w" x="1044" y="455" width="31" height="13"/><text x="1059.5" y="464.3">TRIM28</text><use href="#L" x="1047" y="455"/><use href="#S" x="1053" y="455"/><use href="#S" x="1059" y="455"/><use href="#S" x="1065" y="455"/><use href="#R" x="1071" y="455"/><use href="#S" x="1047" y="468"/><use href="#S" x="1053" y="468"/><use href="#L" x="1059" y="468"/><use href="#S" x="1065" y="468"/></g>
<g id="n-CTIF"><rect class="mb" x="1107" y="455" width="20" height="14"/><text x="1117" y="464.8">CTIF</text></g>
<g id="n-PAK1"><rect class="lp" x="1206" y="450" width="23" height="14"/><text x="1217.5" y="459.8">PAK1</text><use href="#R" x="1212" y="450"/><use href="#S" x="1212" y="464"/></g>
<g id="n-SRC"><rect class="lp" x="1005" y="471" width="20" height="13"/><text x="1015" y="480.3">SRC</text></g>
<g id="n-CBX5"><rect class="lp" x="1087" y="508" width="24" height="14"/><text x="1099" y="517.8">CBX5</text><use href="#B" x="1093" y="508"/><use href="#S" x="1102" y="508"/><use href="#S" x="1093" y="522"/><use href="#S" x="1102" y="522"/></g>
<g id="n-FYN"><rect class="w" x="1136" y="504" width="20" height="14"/><text x="1146" y="513.8">FYN</text><use href="#B" x="1142" y="504"/><use href="#S" x="1142" y="518"/></g>
<g id="n-STAT3"><rect class="w" x="1032" y="536" width="26" height="14"/><text x="1045" y="545.8">STAT3</text><use href="#S" x="1038" y="536"/></g>
<g id="n-EIF4ENIF1"><rect class="w" x="1018" y="569" width="40" height="12"/><text x="1038" y="577.8">EIF4ENIF1</text><use href="#S" x="1023" y="569"/><use href="#L" x="1031" y="569"/><use href="#S" x="1039" y="569"/><use href="#S" x="1047" y="569"/><use href="#S" x="1023" y="581"/><use href="#S" x="1031" y="581"/><use href="#S" x="1039" y="581"/><use href="#L" x="1047" y="581"/></g>
<g id="n-TCF3"><rect class="w" x="1103" y="570" width="22" height="13"/><text x="1114" y="579.3">TCF3</text><use href="#L" x="1109" y="570"/></g>
<g id="n-PRMT5"><rect class="lp" x="1273" y="575" width="30" height="15"/><text x="1288" y="585.3">PRMT5</text></g>
<g id="n-CDKN1A"><rect class="lp" x="972" y="593" width="35" height="14"/><text x="989.5" y="602.8">CDKN1A</text><use href="#B" x="977" y="593"/></g>
<g id="n-CCND1"><rect class="lp" x="1072" y="593" width="30" height="14"/><text x="1087" y="602.8">CCND1</text></g>
<g id="n-STK38"><rect class="lb" x="1200" y="593" width="30" height="14"/><text x="1215" y="602.8">STK38</text><use href="#S" x="1205" y="593"/></g>
<g id="n-WDR77"><rect class="w" x="1248" y="623" width="30" height="14"/><text x="1263" y="632.8">WDR77</text><use href="#S" x="1254" y="623"/></g>
<g id="n-CDK4"><rect class="pk" x="1096" y="634" width="23" height="14"/><text x="1107.5" y="643.8">CDK4</text></g>
<g id="n-CDKN2A"><rect class="lp" x="1043" y="658" width="34" height="14"/><text x="1060" y="667.8">CDKN2A</text></g>
<g id="n-CDKN1B"><rect class="w" x="1088" y="688" width="34" height="14"/><text x="1105" y="697.8">CDKN1B</text><use href="#R" x="1093" y="688"/></g>
<g id="n-PRKCH"><rect class="lb" x="1021" y="692" width="29" height="15"/><text x="1035.5" y="702.3">PRKCH</text><use href="#S" x="1026" y="692"/><use href="#S" x="1035" y="692"/><use href="#S" x="1026" y="707"/></g>
<g id="n-CDK16"><rect class="w" x="972" y="728" width="27" height="14"/><text x="985.5" y="737.8">CDK16</text><use href="#L" x="977" y="728"/><use href="#L" x="986" y="728"/><use href="#L" x="977" y="742"/></g>
<g id="n-ARID4A"><rect class="lp" x="1108" y="772" width="30" height="14"/><text x="1123" y="781.8">ARID4A</text><use href="#S" x="1114" y="772"/><use href="#B" x="1123" y="772"/><use href="#L" x="1132" y="772"/><use href="#L" x="1114" y="786"/><use href="#S" x="1123" y="786"/></g>
<g id="n-TBXA2R"><rect class="w" x="797" y="245" width="32" height="14"/><text x="813" y="254.8">TBXA2R</text><use href="#S" x="803" y="245"/></g>
<g id="n-ZCCHC8"><rect class="w" x="663" y="260" width="33" height="13"/><text x="679.5" y="269.3">ZCCHC8</text><use href="#S" x="668" y="260"/><use href="#S" x="677" y="260"/><use href="#S" x="668" y="273"/></g>
<g id="n-RPS6"><rect class="w" x="849" y="262" width="24" height="12"/><text x="861" y="271.3">RPS6</text><use href="#B" x="853" y="262"/><use href="#B" x="861" y="262"/><use href="#B" x="869" y="262"/><use href="#B" x="853" y="274"/><use href="#B" x="861" y="274"/></g>
<g id="n-PA2G4"><rect class="w" x="911" y="268" width="28" height="14"/><text x="925" y="277.8">PA2G4</text><use href="#L" x="917" y="268"/><use href="#S" x="917" y="282"/></g>
<g id="n-PRKACA"><rect class="w" x="716" y="285" width="33" height="13"/><text x="732.5" y="294.3">PRKACA</text><use href="#S" x="721" y="285"/><use href="#S" x="721" y="298"/></g>
<g id="n-TSC2"><rect class="lp" x="808" y="290" width="24" height="12"/><text x="820" y="299.3">TSC2</text><use href="#R" x="812" y="290"/><use href="#S" x="820" y="290"/><use href="#S" x="828" y="290"/><use href="#B" x="812" y="302"/><use href="#S" x="820" y="302"/></g>
<g id="n-IRS1"><rect class="w" x="663" y="221" width="20" height="12"/><text x="673" y="230.3">IRS1</text><use href="#S" x="668" y="221"/><use href="#B" x="677" y="221"/><use href="#S" x="668" y="233"/></g>
<g id="n-MARK2"><rect class="w" x="723" y="233" width="30" height="13"/><text x="738" y="242.3">MARK2</text><use href="#L" x="729" y="233"/><use href="#S" x="729" y="246"/></g>
<g id="n-PRKG1"><rect class="lp" x="937" y="223" width="29" height="13"/><text x="951.5" y="232.3">PRKG1</text><use href="#R" x="943" y="223"/></g>
<g id="n-DAXX"><rect class="w" x="795" y="168" width="24" height="11"/><text x="807" y="176.3">DAXX</text><use href="#S" x="798" y="168"/><use href="#S" x="804" y="168"/><use href="#S" x="810" y="168"/><use href="#S" x="816" y="168"/><use href="#R" x="798" y="179"/><use href="#S" x="804" y="179"/><use href="#S" x="810" y="179"/><use href="#R" x="816" y="179"/></g>
<g id="n-CSNK2A2"><rect class="lb" x="667" y="174" width="37" height="14"/><text x="685.5" y="183.8">CSNK2A2</text></g>
<g id="n-MAPT"><rect class="lb" x="726" y="192" width="24" height="11"/><text x="738" y="200.3">MAPT</text><use href="#L" x="730" y="192"/><use href="#R" x="738" y="192"/><use href="#L" x="746" y="192"/><use href="#S" x="730" y="203"/><use href="#S" x="738" y="203"/><use href="#S" x="746" y="203"/></g>
<g id="n-PFKFB2"><rect class="lb" x="965" y="180" width="32" height="13"/><text x="981" y="189.3">PFKFB2</text><use href="#S" x="971" y="180"/><use href="#R" x="980" y="180"/><use href="#S" x="971" y="193"/><use href="#L" x="980" y="193"/></g>
<g id="n-HDAC6"><rect class="lb" x="684" y="118" width="28" height="14"/><text x="698" y="127.8">HDAC6</text><use href="#L" x="690" y="118"/></g>
<g id="n-PARD3"><rect class="lp" x="784" y="112" width="29" height="14"/><text x="798.5" y="121.8">PARD3</text><use href="#S" x="790" y="112"/><use href="#R" x="799" y="112"/><use href="#S" x="790" y="126"/></g>
<g id="n-PML"><rect class="lb" x="861" y="118" width="20" height="13"/><text x="871" y="127.3">PML</text><use href="#S" x="863" y="118"/><use href="#L" x="868" y="118"/><use href="#S" x="873" y="118"/><use href="#S" x="878" y="118"/><use href="#S" x="863" y="131"/><use href="#S" x="868" y="131"/><use href="#R" x="873" y="131"/><use href="#S" x="878" y="131"/></g>
<g id="n-PRKAA1"><rect class="w" x="918" y="131" width="31" height="13"/><text x="933.5" y="140.3">PRKAA1</text><use href="#S" x="923" y="131"/><use href="#B" x="932" y="131"/><use href="#B" x="923" y="144"/></g>
<g id="n-PRKAB2"><rect class="lb" x="921" y="75" width="33" height="13"/><text x="937.5" y="84.3">PRKAB2</text><use href="#R" x="926" y="75"/><use href="#S" x="935" y="75"/><use href="#S" x="926" y="88"/><use href="#S" x="935" y="88"/></g>
<g id="n-PRKAB1"><rect class="w" x="920" y="100" width="34" height="13"/><text x="937" y="109.3">PRKAB1</text><use href="#S" x="925" y="100"/></g>
<g id="n-ULK1"><rect class="lp" x="1030" y="90" width="23" height="12"/><text x="1041.5" y="99.3">ULK1</text><use href="#S" x="1034" y="90"/><use href="#S" x="1041" y="90"/><use href="#S" x="1048" y="90"/><use href="#R" x="1036" y="102"/><use href="#S" x="1045" y="102"/></g>
<g id="n-RPTOR"><rect class="lp" x="1036" y="134" width="31" height="13"/><text x="1051.5" y="143.3">RPTOR</text><use href="#S" x="1042" y="134"/><use href="#R" x="1051" y="134"/><use href="#S" x="1042" y="147"/><use href="#R" x="1051" y="147"/></g>
<g id="n-MTOR"><rect class="w" x="1063" y="172" width="26" height="13"/><text x="1076" y="181.3">MTOR</text><use href="#R" x="1068" y="172"/><use href="#S" x="1077" y="172"/><use href="#R" x="1068" y="185"/></g>
<g id="n-PKN1"><rect class="db" x="1101" y="205" width="24" height="13"/><text x="1113" y="214.3">PKN1</text><use href="#L" x="1105" y="205"/><use href="#S" x="1113" y="205"/><use href="#B" x="1121" y="205"/><use href="#L" x="1105" y="218"/><use href="#S" x="1113" y="218"/></g>
<g id="n-BCL2L1"><rect class="lb" x="1141" y="229" width="31" height="14"/><text x="1156.5" y="238.8">BCL2L1</text></g>
<g id="n-RHEB"><rect class="lp" x="1228" y="223" width="24" height="14"/><text x="1240" y="232.8">RHEB</text></g>
<g id="n-RPS6KA4"><rect class="bl" x="1069" y="248" width="38" height="14"/><text x="1088" y="257.8">RPS6KA4</text></g>
<g id="n-SRF"><rect class="lp" x="1035" y="262" width="20" height="13"/><text x="1045" y="271.3">SRF</text><use href="#S" x="1040" y="262"/></g>
<g id="n-BAD"><rect class="w" x="1104" y="275" width="19" height="13"/><text x="1113.5" y="284.3">BAD</text><use href="#R" x="1109" y="275"/></g>
<g id="n-AKT1S1"><rect class="w" x="1182" y="280" width="33" height="13"/><text x="1198.5" y="289.3">AKT1S1</text><use href="#S" x="1188" y="280"/><use href="#R" x="1197" y="280"/><use href="#S" x="1188" y="293"/></g>
<g id="n-UIMC1"><rect class="pk" x="1243" y="278" width="27" height="14"/><text x="1256.5" y="287.8">UIMC1</text><use href="#S" x="1249" y="278"/></g>

<!-- group members -->
<g id="n-CHAF1B"><rect class="w" x="310" y="65" width="33" height="14"/><text x="326.5" y="74.8">CHAF1B</text><use href="#S" x="315" y="65"/><use href="#R" x="323" y="65"/><use href="#L" x="315" y="79"/><use href="#S" x="323" y="79"/></g>
<g id="n-AKAP12"><rect class="w" x="310" y="83" width="33" height="14"/><text x="326.5" y="92.8">AKAP12</text><use href="#S" x="315" y="97"/></g>
<g id="n-MBP"><rect class="bl" x="346" y="65" width="22" height="13"/><text x="357" y="74.3">MBP</text><use href="#R" x="349" y="65"/><use href="#R" x="353" y="65"/><use href="#L" x="357" y="65"/><use href="#S" x="362" y="65"/><use href="#B" x="349" y="78"/><use href="#R" x="355" y="78"/><use href="#L" x="361" y="78"/></g>
<g id="n-NDRG1"><rect class="lb" x="346" y="83" width="30" height="15"/><text x="361" y="93.3">NDRG1</text><use href="#R" x="351" y="98"/></g>
<g id="n-PPP1R12A"><rect class="w" x="170" y="130" width="42" height="14"/><text x="191" y="139.8">PPP1R12A</text><use href="#R" x="176" y="130"/><use href="#S" x="185" y="130"/><use href="#B" x="194" y="130"/><use href="#S" x="176" y="144"/><use href="#S" x="185" y="144"/><use href="#S" x="194" y="144"/></g>
<g id="n-GPSM3"><rect class="w" x="170" y="149" width="31" height="13"/><text x="185.5" y="158.3">GPSM3</text><use href="#S" x="176" y="162"/></g>
<g id="n-KLC2"><rect class="lb" x="204" y="148" width="22" height="14"/><text x="215" y="157.8">KLC2</text><use href="#S" x="209" y="148"/><use href="#B" x="209" y="162"/></g>
<g id="n-USP8"><rect class="w" x="170" y="167" width="24" height="13"/><text x="182" y="176.3">USP8</text><use href="#S" x="176" y="180"/></g>
<g id="n-PKN2"><rect class="w" x="195" y="168" width="23" height="14"/><text x="206.5" y="177.8">PKN2</text><use href="#S" x="200" y="168"/><use href="#R" x="209" y="168"/><use href="#R" x="200" y="182"/><use href="#R" x="209" y="182"/></g>
<g id="n-CD44"><rect class="bl" x="204" y="230" width="22" height="14"/><text x="215" y="239.8">CD44</text><use href="#B" x="209" y="230"/><use href="#R" x="209" y="244"/></g>
<g id="n-HGS"><rect class="bl" x="204" y="248" width="22" height="14"/><text x="215" y="257.8">HGS</text></g>
<g id="n-PSMC4"><rect class="w" x="717" y="46" width="30" height="12"/><text x="732" y="54.8">PSMC4</text><use href="#S" x="723" y="46"/></g>
<g id="n-EIF2B5"><rect class="w" x="717" y="63" width="30" height="14"/><text x="732" y="72.8">EIF2B5</text><use href="#S" x="723" y="63"/></g>
<g id="n-NRBP1"><rect class="w" x="750" y="63" width="29" height="14"/><text x="764.5" y="72.8">NRBP1</text><use href="#S" x="755" y="63"/><use href="#S" x="764" y="63"/><use href="#R" x="755" y="77"/><use href="#S" x="764" y="77"/></g>
<g id="n-PTPN12"><rect class="lb" x="828" y="18" width="32" height="15"/><text x="844" y="28.3">PTPN12</text><use href="#B" x="832" y="18"/><use href="#B" x="839" y="18"/><use href="#L" x="846" y="18"/><use href="#L" x="853" y="18"/><use href="#L" x="832" y="33"/><use href="#B" x="840" y="33"/><use href="#B" x="848" y="33"/></g>
<g id="n-AFAP1"><rect class="w" x="863" y="19" width="28" height="14"/><text x="877" y="28.8">AFAP1</text><use href="#L" x="868" y="19"/><use href="#L" x="868" y="33"/></g>
<g id="n-IQGAP1"><rect class="w" x="828" y="37" width="32" height="13"/><text x="844" y="46.3">IQGAP1</text></g>
<g id="n-EIF4A3"><rect class="pk" x="860" y="37" width="31" height="14"/><text x="875.5" y="46.8">EIF4A3</text></g>
<g id="n-CSDE1"><rect class="w" x="828" y="55" width="30" height="13"/><text x="843" y="64.3">CSDE1</text><use href="#L" x="833" y="55"/></g>
<g id="n-PEA15"><rect class="w" x="860" y="55" width="27" height="13"/><text x="873.5" y="64.3">PEA15</text><use href="#B" x="865" y="55"/></g>
<g id="n-GJB1"><rect class="w" x="828" y="72" width="23" height="12"/><text x="839.5" y="80.8">GJB1</text><use href="#B" x="833" y="72"/><use href="#B" x="833" y="84"/></g>
<g id="n-F11R"><rect class="w" x="853" y="72" width="23" height="12"/><text x="864.5" y="80.8">F11R</text><use href="#B" x="858" y="72"/><use href="#B" x="867" y="72"/><use href="#B" x="858" y="84"/><use href="#B" x="867" y="84"/></g>
<g id="n-UVRAG"><rect class="w" x="1175" y="73" width="30" height="14"/><text x="1190" y="82.8">UVRAG</text><use href="#S" x="1180" y="73"/></g>
<g id="n-LPIN1"><rect class="w" x="1208" y="73" width="26" height="14"/><text x="1221" y="82.8">LPIN1</text><use href="#S" x="1212" y="73"/><use href="#S" x="1219" y="73"/><use href="#R" x="1226" y="73"/></g>
<g id="n-SRRM1"><rect class="w" x="1175" y="91" width="30" height="13"/><text x="1190" y="100.3">SRRM1</text><rect class="bar" x="1172" y="87" width="36" height="6" fill="#8a5a4a" stroke="none"/><use href="#S" x="1177" y="104"/><use href="#S" x="1181" y="104"/><use href="#S" x="1185" y="104"/><use href="#S" x="1189" y="104"/><use href="#S" x="1193" y="104"/><use href="#S" x="1197" y="104"/><use href="#S" x="1201" y="104"/></g>
<g id="n-PATL1"><rect class="w" x="1208" y="91" width="26" height="14"/><text x="1221" y="100.8">PATL1</text><use href="#S" x="1213" y="91"/><use href="#S" x="1220" y="91"/><use href="#R" x="1227" y="91"/></g>
<g id="n-BAG3"><rect class="lb" x="1175" y="108" width="24" height="14"/><text x="1187" y="117.8">BAG3</text><use href="#B" x="1180" y="122"/></g>
<g id="n-BRD9"><rect class="w" x="1202" y="108" width="23" height="14"/><text x="1213.5" y="117.8">BRD9</text><use href="#S" x="1207" y="122"/></g>
<g id="n-TBC1D4"><rect class="w" x="1200" y="163" width="29" height="13"/><text x="1214.5" y="172.3">TBC1D4</text><use href="#L" x="1204" y="163"/><use href="#L" x="1213" y="163"/><use href="#S" x="1222" y="163"/></g>
<g id="n-NDRG2"><rect class="w" x="1199" y="179" width="29" height="14"/><text x="1213.5" y="188.8">NDRG2</text><use href="#S" x="1204" y="179"/><use href="#L" x="1213" y="179"/></g>
<g id="n-SNIP1"><rect class="w" x="1232" y="178" width="25" height="14"/><text x="1244.5" y="187.8">SNIP1</text><use href="#S" x="1237" y="178"/><use href="#S" x="1246" y="178"/><use href="#S" x="1237" y="192"/><use href="#S" x="1246" y="192"/></g>
<g id="n-MYBBP1A"><rect class="lp" x="81" y="333" width="38" height="12"/><text x="100" y="341.8">MYBBP1A</text><use href="#B" x="85" y="333"/><use href="#L" x="91" y="333"/><use href="#B" x="97" y="333"/><use href="#B" x="103" y="333"/><use href="#B" x="109" y="333"/><use href="#L" x="115" y="333"/><use href="#B" x="85" y="345"/><use href="#L" x="91" y="345"/><use href="#B" x="97" y="345"/><use href="#B" x="103" y="345"/><use href="#B" x="109" y="345"/></g>
<g id="n-CDC25B"><rect class="lb" x="80" y="351" width="33" height="14"/><text x="96.5" y="360.8">CDC25B</text></g>
<g id="n-MBD3"><rect class="w" x="117" y="351" width="24" height="14"/><text x="129" y="360.8">MBD3</text><use href="#B" x="123" y="351"/><use href="#B" x="123" y="365"/></g>
<g id="n-TPX2"><rect class="w" x="81" y="368" width="22" height="14"/><text x="92" y="377.8">TPX2</text><use href="#L" x="86" y="368"/><use href="#L" x="95" y="368"/><use href="#L" x="86" y="382"/></g>

<g id="n-SLC9A3R1"><rect class="lp" x="11" y="431" width="41" height="14"/><text x="31.5" y="440.8">SLC9A3R1</text><use href="#S" x="16" y="431"/><use href="#S" x="25" y="431"/></g>
<g id="n-VCPIP1"><rect class="w" x="57" y="431" width="27" height="14"/><text x="70.5" y="440.8">VCPIP1</text><use href="#L" x="61" y="431"/><use href="#R" x="69" y="431"/><use href="#B" x="77" y="431"/></g>
<g id="n-TMPO"><rect class="w" x="86" y="431" width="29" height="14"/><text x="100.5" y="440.8">TMPO</text><use href="#S" x="88" y="431"/><use href="#S" x="92" y="431"/><use href="#B" x="96" y="431"/><use href="#S" x="100" y="431"/><use href="#S" x="104" y="431"/><use href="#R" x="110" y="431"/><use href="#S" x="88" y="445"/><use href="#S" x="92" y="445"/><use href="#L" x="96" y="445"/><use href="#S" x="100" y="445"/><use href="#S" x="104" y="445"/><use href="#S" x="109" y="445"/></g>
<g id="n-LBR"><rect class="w" x="118" y="431" width="18" height="14"/><text x="127" y="440.8">LBR</text><use href="#S" x="122" y="431"/><use href="#S" x="130" y="431"/><use href="#S" x="122" y="445"/></g>
<g id="n-GORASP1"><rect class="w" x="11" y="448" width="39" height="14"/><text x="30.5" y="457.8">GORASP1</text><use href="#S" x="16" y="448"/><use href="#S" x="25" y="448"/></g>
<g id="n-CLASP2"><rect class="w" x="55" y="448" width="29" height="14"/><text x="69.5" y="457.8">CLASP2</text><use href="#B" x="61" y="448"/><use href="#R" x="69" y="448"/><use href="#S" x="77" y="448"/></g>
<g id="n-PI4KB"><rect class="w" x="86" y="448" width="27" height="14"/><text x="99.5" y="457.8">PI4KB</text></g>
<g id="n-RANGAP1"><rect class="mb" x="11" y="466" width="39" height="15"/><text x="30.5" y="476.3">RANGAP1</text><use href="#L" x="16" y="466"/></g>
<g id="n-CSNK2B"><rect class="w" x="54" y="466" width="32" height="14"/><text x="70" y="475.8">CSNK2B</text><use href="#L" x="59" y="465"/><use href="#L" x="67" y="465"/><use href="#S" x="76" y="465"/></g>
<g id="n-NAGK"><rect class="w" x="92" y="466" width="23" height="14"/><text x="103.5" y="475.8">NAGK</text><use href="#S" x="96" y="466"/></g>
<g id="n-UBXN2B"><rect class="w" x="11" y="483" width="36" height="14"/><text x="29" y="492.8">UBXN2B</text></g>
<g id="n-RANBP2"><rect class="w" x="48" y="483" width="32" height="14"/><text x="64" y="492.8">RANBP2</text><use href="#B" x="46" y="482"/><use href="#L" x="50" y="482"/><use href="#S" x="54" y="482"/><use href="#R" x="58" y="482"/><use href="#S" x="62" y="482"/><use href="#R" x="66" y="482"/><use href="#S" x="70" y="482"/><use href="#S" x="74" y="482"/><use href="#S" x="78" y="482"/></g>
<g id="n-PALLD"><rect class="w" x="85" y="483" width="25" height="14"/><text x="97.5" y="492.8">PALLD</text><use href="#B" x="90" y="482"/></g>
<g id="n-IRS2"><rect class="w" x="115" y="483" width="20" height="14"/><text x="125" y="492.8">IRS2</text><use href="#S" x="118" y="482"/><use href="#R" x="122" y="482"/><use href="#S" x="126" y="482"/><use href="#B" x="131" y="482"/></g>
<g id="n-NSFL1C"><rect class="w" x="11" y="501" width="34" height="14"/><text x="28" y="510.8">NSFL1C</text><use href="#S" x="16" y="501"/></g>
<g id="n-HMGA2"><rect class="w" x="47" y="501" width="31" height="14"/><text x="62.5" y="510.8">HMGA2</text><use href="#R" x="50" y="499"/><use href="#R" x="54" y="499"/><use href="#S" x="58" y="499"/><use href="#R" x="62" y="499"/><use href="#S" x="66" y="499"/><use href="#R" x="71" y="499"/><use href="#B" x="76" y="499"/></g>
<g id="n-CDCA5"><rect class="lp" x="80" y="501" width="21" height="14"/><text x="90.5" y="510.8">CDCA5</text><use href="#R" x="86" y="501"/></g>
<g id="n-SLBP"><rect class="lp" x="112" y="501" width="23" height="14"/><text x="123.5" y="510.8">SLBP</text><use href="#B" x="117" y="499"/><use href="#L" x="124" y="499"/><use href="#S" x="131" y="499"/></g>
<g id="n-NOLC1"><rect class="w" x="11" y="518" width="29" height="14"/><text x="25.5" y="527.8">NOLC1</text><use href="#B" x="13" y="517"/><use href="#L" x="18" y="517"/><use href="#B" x="23" y="517"/><use href="#L" x="28" y="517"/><use href="#B" x="33" y="517"/><use href="#B" x="38" y="517"/></g>
<g id="n-FOXK2"><rect class="w" x="45" y="518" width="25" height="14"/><text x="57.5" y="527.8">FOXK2</text><use href="#S" x="48" y="517"/><use href="#S" x="53" y="517"/><use href="#L" x="58" y="517"/><use href="#S" x="64" y="517"/></g>
<g id="n-NUP50"><rect class="w" x="77" y="518" width="27" height="14"/><text x="90.5" y="527.8">NUP50</text><use href="#L" x="81" y="517"/><use href="#L" x="89" y="517"/></g>
<g id="n-MAP4"><rect class="lb" x="105" y="518" width="25" height="14"/><text x="117.5" y="527.8">MAP4</text><use href="#B" x="106" y="517"/><use href="#L" x="111" y="517"/><use href="#B" x="116" y="517"/><use href="#L" x="121" y="517"/><use href="#B" x="126" y="517"/><use href="#R" x="108" y="532"/><use href="#S" x="113" y="532"/><use href="#B" x="118" y="532"/><use href="#R" x="123" y="532"/><use href="#S" x="128" y="532"/></g>
<g id="n-RFC1"><rect class="w" x="11" y="536" width="24" height="14"/><text x="23" y="545.8">RFC1</text><use href="#B" x="13" y="535"/><use href="#L" x="18" y="535"/><use href="#B" x="23" y="535"/><use href="#L" x="28" y="535"/><use href="#B" x="33" y="535"/><use href="#B" x="13" y="550"/><use href="#S" x="18" y="550"/><use href="#S" x="23" y="550"/><use href="#L" x="28" y="550"/><use href="#L" x="33" y="550"/></g>
<g id="n-USP1"><rect class="w" x="40" y="536" width="23" height="14"/><text x="51.5" y="545.8">USP1</text><use href="#B" x="44" y="535"/><use href="#R" x="49" y="535"/><use href="#B" x="57" y="535"/><use href="#B" x="44" y="550"/><use href="#B" x="52" y="550"/></g>
<g id="n-TOP1"><rect class="w" x="65" y="536" width="23" height="14"/><text x="76.5" y="545.8">TOP1</text><use href="#S" x="70" y="535"/></g>
<g id="n-KIF11"><rect class="w" x="91" y="536" width="24" height="14"/><text x="103" y="545.8">KIF11</text><use href="#B" x="97" y="535"/></g>

<g id="n-GOLGA2"><rect class="w" x="188" y="558" width="33" height="14"/><text x="204.5" y="567.8">GOLGA2</text><use href="#L" x="193" y="558"/></g>
<g id="n-LMNB1"><rect class="lb" x="188" y="576" width="29" height="14"/><text x="202.5" y="585.8">LMNB1</text><use href="#R" x="191" y="576"/><use href="#S" x="196" y="576"/><use href="#S" x="201" y="576"/><use href="#S" x="206" y="576"/><use href="#R" x="211" y="576"/></g>
<g id="n-RAB1A"><rect class="w" x="220" y="576" width="27" height="14"/><text x="233.5" y="585.8">RAB1A</text><use href="#S" x="225" y="576"/><use href="#B" x="234" y="576"/></g>
<g id="n-NUP98"><rect class="w" x="188" y="595" width="27" height="14"/><text x="201.5" y="604.8">NUP98</text><use href="#B" x="191" y="595"/><use href="#S" x="197" y="595"/><use href="#S" x="203" y="595"/><use href="#L" x="191" y="609"/><use href="#S" x="196" y="609"/><use href="#S" x="201" y="609"/><use href="#S" x="206" y="609"/><use href="#L" x="211" y="609"/></g>
<g id="n-PBK"><rect class="w" x="218" y="595" width="22" height="14"/><text x="229" y="604.8">PBK</text><use href="#L" x="223" y="595"/><use href="#B" x="231" y="595"/><use href="#L" x="223" y="609"/></g>

<g id="n-HNRNPK"><rect class="lb" x="49" y="597" width="33" height="14"/><text x="65.5" y="606.8">HNRNPK</text><use href="#B" x="54" y="597"/></g>
<g id="n-DLGAP5"><rect class="lb" x="88" y="597" width="34" height="14"/><text x="105" y="606.8">DLGAP5</text><use href="#B" x="93" y="597"/><use href="#B" x="101" y="597"/><use href="#B" x="109" y="597"/></g>
<g id="n-EZH2"><rect class="w" x="124" y="597" width="22" height="14"/><text x="135" y="606.8">EZH2</text><use href="#B" x="129" y="597"/></g>
<g id="n-SAMHD1"><rect class="w" x="49" y="615" width="33" height="14"/><text x="65.5" y="624.8">SAMHD1</text><use href="#L" x="54" y="613"/></g>
<g id="n-NUCKS1"><rect class="w" x="88" y="615" width="32" height="14"/><text x="104" y="624.8">NUCKS1</text><use href="#S" x="92" y="613"/><use href="#B" x="100" y="613"/><use href="#L" x="108" y="613"/><use href="#L" x="116" y="613"/></g>
<g id="n-TK1"><rect class="pk" x="124" y="615" width="19" height="14"/><text x="133.5" y="624.8">TK1</text><use href="#B" x="128" y="613"/><use href="#L" x="136" y="613"/></g>
<g id="n-ZC3HC1"><rect class="lp" x="49" y="632" width="29" height="14"/><text x="63.5" y="641.8">ZC3HC1</text><use href="#B" x="50" y="631"/><use href="#L" x="54" y="631"/><use href="#B" x="58" y="631"/><use href="#L" x="62" y="631"/><use href="#L" x="66" y="631"/><use href="#B" x="70" y="631"/><use href="#L" x="74" y="631"/><use href="#L" x="78" y="631"/></g>
<g id="n-DNMT1"><rect class="w" x="83" y="632" width="29" height="14"/><text x="97.5" y="641.8">DNMT1</text></g>
<g id="n-ORC1"><rect class="lp" x="118" y="632" width="25" height="14"/><text x="130.5" y="641.8">ORC1</text><use href="#L" x="125" y="631"/><use href="#B" x="130" y="631"/></g>
<g id="n-TCOF1"><rect class="w" x="49" y="650" width="28" height="14"/><text x="63" y="659.8">TCOF1</text><use href="#S" x="48" y="649"/><use href="#L" x="53" y="649"/><use href="#L" x="58" y="649"/><use href="#B" x="63" y="649"/><use href="#L" x="68" y="649"/><use href="#L" x="73" y="649"/></g>
<g id="n-PDS5B"><rect class="w" x="80" y="650" width="30" height="14"/><text x="95" y="659.8">PDS5B</text><use href="#B" x="80" y="649"/><use href="#B" x="85" y="649"/><use href="#S" x="90" y="649"/><use href="#R" x="95" y="649"/><use href="#L" x="100" y="649"/></g>
<g id="n-PTPN2"><rect class="w" x="113" y="650" width="27" height="14"/><text x="126.5" y="659.8">PTPN2</text><use href="#L" x="118" y="649"/><use href="#B" x="126" y="649"/></g>
<g id="n-GMPS"><rect class="lb" x="49" y="667" width="24" height="15"/><text x="61" y="677.3">GMPS</text><use href="#B" x="48" y="666"/><use href="#B" x="52" y="666"/><use href="#L" x="56" y="666"/><use href="#L" x="60" y="666"/><use href="#R" x="66" y="666"/><use href="#S" x="72" y="666"/></g>
<g id="n-PAICS"><rect class="w" x="78" y="667" width="26" height="14"/><text x="91" y="676.8">PAICS</text><use href="#R" x="78" y="666"/><use href="#L" x="83" y="666"/><use href="#B" x="88" y="666"/><use href="#L" x="93" y="666"/><use href="#L" x="98" y="666"/></g>
<g id="n-RRM2"><rect class="w" x="108" y="667" width="23" height="14"/><text x="119.5" y="676.8">RRM2</text><use href="#L" x="113" y="666"/></g>
<g id="n-KIF22"><rect class="w" x="49" y="685" width="25" height="14"/><text x="61.5" y="694.8">KIF22</text><use href="#L" x="54" y="685"/><use href="#B" x="63" y="685"/><use href="#B" x="54" y="699"/></g>
<g id="n-PRC1"><rect class="w" x="77" y="685" width="23" height="14"/><text x="88.5" y="694.8">PRC1</text><use href="#B" x="82" y="685"/><use href="#B" x="82" y="699"/></g>
<g id="n-DLG1"><rect class="w" x="103" y="685" width="24" height="14"/><text x="115" y="694.8">DLG1</text><use href="#L" x="108" y="685"/></g>

<g id="n-TNKS1BP1"><rect class="lb" x="88" y="748" width="40" height="14"/><text x="108" y="757.8">TNKS1BP1</text><use href="#L" x="91" y="748"/><use href="#L" x="96" y="748"/><use href="#L" x="101" y="748"/><use href="#L" x="106" y="748"/><use href="#L" x="111" y="748"/><use href="#L" x="116" y="748"/><use href="#L" x="121" y="748"/></g>
<g id="n-NUP107"><rect class="lp" x="132" y="748" width="31" height="14"/><text x="147.5" y="757.8">NUP107</text><use href="#L" x="137" y="748"/><use href="#B" x="146" y="748"/></g>
<g id="n-UBXN1"><rect class="lb" x="167" y="748" width="28" height="14"/><text x="181" y="757.8">UBXN1</text><use href="#L" x="172" y="748"/></g>
<g id="n-GORASP2"><rect class="w" x="88" y="767" width="37" height="14"/><text x="106.5" y="776.8">GORASP2</text><use href="#L" x="92" y="766"/><use href="#L" x="98" y="766"/><use href="#B" x="104" y="766"/><use href="#L" x="110" y="766"/><use href="#L" x="116" y="766"/><use href="#B" x="122" y="766"/></g>
<g id="n-BOD1L1"><rect class="lb" x="130" y="767" width="33" height="14"/><text x="146.5" y="776.8">BOD1L1</text><use href="#L" x="134" y="766"/><use href="#L" x="140" y="766"/><use href="#B" x="146" y="766"/><use href="#L" x="152" y="766"/><use href="#L" x="158" y="766"/><use href="#R" x="134" y="781"/><use href="#S" x="140" y="781"/><use href="#S" x="146" y="781"/><use href="#S" x="152" y="781"/><use href="#S" x="158" y="781"/></g>
<g id="n-LMNB2"><rect class="w" x="167" y="767" width="26" height="14"/><text x="180" y="776.8">LMNB2</text><use href="#L" x="172" y="766"/><use href="#L" x="180" y="766"/></g>
<g id="n-TPR"><rect class="w" x="197" y="767" width="20" height="14"/><text x="207" y="776.8">TPR</text><use href="#B" x="200" y="766"/><use href="#L" x="206" y="766"/><use href="#B" x="212" y="766"/></g>
<g id="n-EPB41L3"><rect class="w" x="88" y="785" width="37" height="14"/><text x="106.5" y="794.8">EPB41L3</text><use href="#L" x="90" y="784"/><use href="#B" x="94" y="784"/><use href="#L" x="98" y="784"/><use href="#S" x="102" y="784"/><use href="#L" x="106" y="784"/><use href="#R" x="110" y="784"/><use href="#S" x="114" y="784"/><use href="#L" x="118" y="784"/><use href="#B" x="122" y="784"/><use href="#B" x="90" y="799"/><use href="#S" x="95" y="799"/><use href="#L" x="100" y="799"/><use href="#S" x="105" y="799"/><use href="#B" x="110" y="799"/><use href="#S" x="115" y="799"/><use href="#L" x="120" y="799"/></g>
<g id="n-ITGB3BP"><rect class="w" x="127" y="785" width="36" height="14"/><text x="145" y="794.8">ITGB3BP</text></g>
<g id="n-XRCC1"><rect class="lb" x="165" y="785" width="28" height="14"/><text x="179" y="794.8">XRCC1</text><use href="#B" x="171" y="784"/><use href="#S" x="178" y="784"/><use href="#R" x="185" y="784"/></g>
<g id="n-ILF3"><rect class="w" x="196" y="785" width="21" height="14"/><text x="206.5" y="794.8">ILF3</text><use href="#S" x="198" y="784"/><use href="#S" x="203" y="784"/><use href="#L" x="208" y="784"/><use href="#S" x="213" y="784"/><use href="#S" x="200" y="799"/><use href="#S" x="206" y="799"/><use href="#L" x="212" y="799"/></g>
<g id="n-AKIRIN2"><rect class="w" x="88" y="802" width="34" height="14"/><text x="105" y="811.8">AKIRIN2</text></g>
<g id="n-SETDB1"><rect class="w" x="123" y="802" width="32" height="14"/><text x="139" y="811.8">SETDB1</text><use href="#B" x="129" y="801"/></g>
<g id="n-SLAIN2"><rect class="w" x="160" y="802" width="27" height="14"/><text x="173.5" y="811.8">SLAIN2</text><use href="#L" x="165" y="801"/><use href="#B" x="173" y="801"/><use href="#R" x="173" y="816"/></g>
<g id="n-E2F5"><rect class="w" x="192" y="802" width="21" height="14"/><text x="202.5" y="811.8">E2F5</text></g>
<g id="n-ANKLE2"><rect class="lb" x="88" y="819" width="30" height="15"/><text x="103" y="829.3">ANKLE2</text><use href="#L" x="93" y="819"/><use href="#L" x="101" y="819"/><use href="#L" x="93" y="834"/></g>
<g id="n-NUP153"><rect class="w" x="123" y="819" width="34" height="14"/><text x="140" y="828.8">NUP153</text><use href="#S" x="126" y="818"/><use href="#R" x="131" y="818"/><use href="#L" x="136" y="818"/><use href="#L" x="141" y="818"/><use href="#L" x="146" y="818"/><use href="#L" x="151" y="818"/></g>
<g id="n-C2orf49"><rect class="lb" x="158" y="819" width="30" height="14"/><text x="173" y="828.8">C2orf49</text></g>
<g id="n-SKP2"><rect class="w" x="193" y="819" width="20" height="14"/><text x="203" y="828.8">SKP2</text><use href="#L" x="197" y="819"/></g>
<g id="n-C9orf40"><rect class="w" x="88" y="836" width="30" height="14"/><text x="103" y="845.8">C9orf40</text></g>
<g id="n-NCAPH"><rect class="lp" x="122" y="836" width="28" height="14"/><text x="136" y="845.8">NCAPH</text><use href="#L" x="127" y="850"/></g>
<g id="n-LRWD1"><rect class="lp" x="155" y="836" width="28" height="14"/><text x="169" y="845.8">LRWD1</text><use href="#B" x="160" y="836"/></g>
<g id="n-LRCH3"><rect class="lp" x="188" y="836" width="27" height="14"/><text x="201.5" y="845.8">LRCH3</text><use href="#L" x="193" y="835"/></g>
<g id="n-RAD18"><rect class="w" x="88" y="853" width="27" height="14"/><text x="101.5" y="862.8">RAD18</text><use href="#L" x="93" y="853"/><use href="#L" x="101" y="853"/></g>
<g id="n-RPL12"><rect class="w" x="118" y="853" width="29" height="14"/><text x="132.5" y="862.8">RPL12</text><use href="#L" x="123" y="853"/></g>
<g id="n-MKI67"><rect class="lb" x="148" y="853" width="24" height="14"/><text x="160" y="862.8">MKI67</text><rect class="bar" x="145" y="848" width="30" height="6" fill="#445" stroke="none"/><use href="#B" x="150" y="867"/><use href="#L" x="154" y="867"/><use href="#B" x="158" y="867"/><use href="#L" x="162" y="867"/><use href="#B" x="166" y="867"/><use href="#L" x="170" y="867"/></g>
<g id="n-ORC2"><rect class="lb" x="177" y="853" width="25" height="14"/><text x="189.5" y="862.8">ORC2</text><use href="#B" x="182" y="853"/></g>
<g id="n-MED1"><rect class="lp" x="88" y="871" width="24" height="14"/><text x="100" y="880.8">MED1</text><use href="#S" x="91" y="870"/><use href="#S" x="96" y="870"/><use href="#L" x="101" y="870"/><use href="#B" x="106" y="870"/><use href="#B" x="92" y="885"/><use href="#B" x="98" y="885"/><use href="#R" x="104" y="885"/></g>
<g id="n-CDC6"><rect class="w" x="115" y="871" width="23" height="14"/><text x="126.5" y="880.8">CDC6</text><use href="#L" x="120" y="870"/><use href="#S" x="120" y="885"/></g>
<g id="n-ADD3"><rect class="lp" x="143" y="871" width="27" height="14"/><text x="156.5" y="880.8">ADD3</text><use href="#S" x="148" y="870"/><use href="#S" x="153" y="870"/><use href="#R" x="148" y="885"/><use href="#B" x="156" y="885"/></g>
<g id="n-DPF2"><rect class="lp" x="171" y="871" width="23" height="14"/><text x="182.5" y="880.8">DPF2</text><use href="#S" x="176" y="885"/></g>
<g id="n-ING5"><rect class="w" x="197" y="871" width="21" height="14"/><text x="207.5" y="880.8">ING5</text><use href="#L" x="201" y="870"/><use href="#B" x="201" y="885"/></g>

<g id="n-GTSE1"><rect class="w" x="305" y="843" width="30" height="12"/><text x="320" y="851.8">GTSE1</text><use href="#B" x="309" y="843"/><use href="#L" x="314" y="843"/><use href="#L" x="319" y="843"/><use href="#L" x="324" y="843"/><use href="#S" x="329" y="843"/><use href="#S" x="309" y="855"/><use href="#S" x="314" y="855"/><use href="#L" x="319" y="855"/><use href="#L" x="324" y="855"/></g>
<g id="n-WAC"><rect class="w" x="305" y="861" width="21" height="14"/><text x="315.5" y="870.8">WAC</text><use href="#L" x="310" y="875"/></g>
<g id="n-RAN"><rect class="w" x="330" y="861" width="20" height="14"/><text x="340" y="870.8">RAN</text></g>
<g id="n-STAT1"><rect class="w" x="1233" y="493" width="26" height="13"/><text x="1246" y="502.3">STAT1</text></g>
<g id="n-DDX5"><rect class="lp" x="1233" y="510" width="23" height="13"/><text x="1244.5" y="519.3">DDX5</text><use href="#L" x="1238" y="510"/><use href="#L" x="1238" y="523"/></g>
<g id="n-JAK1"><rect class="pk" x="1260" y="510" width="26" height="13"/><text x="1273" y="519.3">JAK1</text></g>
<g id="n-AAK1"><rect class="lp" x="1260" y="683" width="24" height="14"/><text x="1272" y="692.8">AAK1</text><use href="#L" x="1265" y="683"/></g>
<g id="n-YAP1"><rect class="lb" x="1260" y="700" width="24" height="13"/><text x="1272" y="709.3">YAP1</text><use href="#B" x="1265" y="699"/><use href="#R" x="1270" y="699"/><use href="#S" x="1275" y="699"/><use href="#B" x="1280" y="699"/><use href="#R" x="1265" y="713"/><use href="#R" x="1276" y="713"/></g>
<g id="n-NUP35"><rect class="lb" x="1209" y="765" width="28" height="13"/><text x="1223" y="774.3">NUP35</text><use href="#L" x="1215" y="765"/><use href="#S" x="1224" y="765"/><use href="#L" x="1215" y="778"/></g>
<g id="n-PELP1"><rect class="lp" x="1209" y="784" width="27" height="13"/><text x="1222.5" y="793.3">PELP1</text><use href="#S" x="1221" y="784"/><use href="#S" x="1229" y="784"/><use href="#R" x="1213" y="797"/><use href="#S" x="1221" y="797"/><use href="#S" x="1229" y="797"/></g>
<g id="n-SF3B1"><rect class="lp" x="1239" y="784" width="27" height="13"/><text x="1252.5" y="793.3">SF3B1</text><use href="#S" x="1241" y="784"/><use href="#S" x="1245" y="784"/><use href="#S" x="1249" y="784"/><use href="#S" x="1253" y="784"/><use href="#S" x="1257" y="784"/><use href="#S" x="1261" y="784"/><use href="#S" x="1265" y="784"/><use href="#R" x="1241" y="797"/><use href="#R" x="1245" y="797"/><use href="#S" x="1249" y="797"/><use href="#S" x="1253" y="797"/><use href="#S" x="1257" y="797"/><use href="#S" x="1261" y="797"/><use href="#S" x="1265" y="797"/></g>
<g id="n-MECP2"><rect class="w" x="1038" y="815" width="28" height="13"/><text x="1052" y="824.3">MECP2</text><use href="#L" x="1043" y="815"/><use href="#R" x="1052" y="815"/></g>
<g id="n-LIMA1"><rect class="lp" x="1038" y="832" width="26" height="13"/><text x="1051" y="841.3">LIMA1</text><use href="#S" x="1041" y="831"/><use href="#B" x="1046" y="831"/><use href="#S" x="1051" y="831"/><use href="#S" x="1056" y="831"/><use href="#S" x="1041" y="845"/><use href="#S" x="1047" y="845"/><use href="#B" x="1053" y="845"/><use href="#S" x="1059" y="845"/></g>
<g id="n-HMGA1"><rect class="lb" x="945" y="824" width="28" height="14"/><text x="959" y="833.8">HMGA1</text><use href="#L" x="948" y="824"/><use href="#S" x="953" y="824"/><use href="#L" x="958" y="824"/><use href="#S" x="963" y="824"/><use href="#L" x="968" y="824"/><use href="#B" x="948" y="838"/><use href="#L" x="953" y="838"/><use href="#S" x="958" y="838"/><use href="#S" x="963" y="838"/><use href="#R" x="968" y="838"/></g>
<g id="n-DNM1L"><rect class="w" x="945" y="843" width="28" height="13"/><text x="959" y="852.3">DNM1L</text></g>
<g id="n-CTTN"><rect class="w" x="948" y="860" width="24" height="13"/><text x="960" y="869.3">CTTN</text><use href="#L" x="952" y="860"/><use href="#B" x="960" y="860"/><use href="#L" x="952" y="873"/></g>
</g>
</svg>
